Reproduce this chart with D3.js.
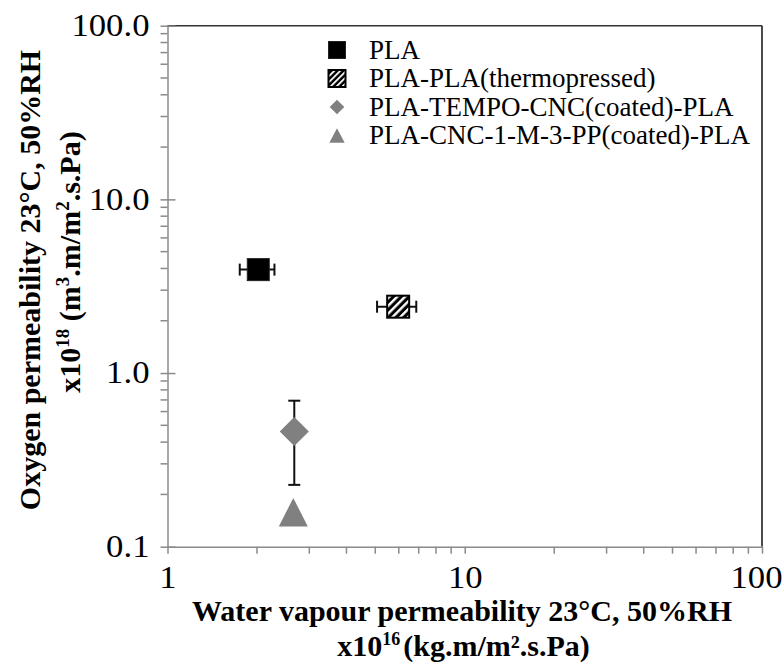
<!DOCTYPE html>
<html>
<head>
<meta charset="utf-8">
<script src="https://cdn.jsdelivr.net/npm/d3@7"></script>
<style>
  html, body { margin: 0; padding: 0; background: #fff; }
  svg { display: block; }
  text { font-family: "Liberation Serif", "Times New Roman", serif; }
</style>
</head>
<body>
<svg id="chart" width="783" height="666"></svg>
<script>
// ---- data ----
const seriesNames = ["PLA", "PLA-PLA(thermopressed)", "PLA-TEMPO-CNC(coated)-PLA", "PLA-CNC-1-M-3-PP(coated)-PLA"];
const wvp = [2.02, 5.97, 2.67, 2.65];          // x: water vapour permeability x1e16
const wvpErr = [0.27, 0.9, 0, 0];
const op = [3.94, 2.41, 0.46, 0.158];          // y: oxygen permeability x1e18
const opErr = [0, 0, 0.233, 0];
const xTickValues = [1, 10, 100];
const xTickLabels = ["1", "10", "100"];
const yTickValues = [0.1, 1, 10, 100];
const yTickLabels = ["0.1", "1.0", "10.0", "100.0"];

// ---- layout ----
const svg = d3.select("#chart");
const W = 783;
const m = { left: 167.5, right: 762, top: 25.7, bottom: 546.7 };
const serif = "'Liberation Serif', 'Times New Roman', serif";

const x = d3.scaleLog().domain([1, 100]).range([m.left, m.right]);
const y = d3.scaleLog().domain([0.1, 100]).range([m.bottom, m.top]);

const defs = svg.append("defs");
function hatch(id, s, w) {
  const p = defs.append("pattern").attr("id", id)
    .attr("patternUnits", "userSpaceOnUse").attr("width", s).attr("height", s)
    .attr("patternTransform", "rotate(45)");
  p.append("rect").attr("width", s).attr("height", s).attr("fill", "#000");
  p.append("rect").attr("width", w).attr("height", s).attr("fill", "#fff");
}
hatch("hatch", 5.5, 2.4);
hatch("hatchSmall", 4.2, 1.8);

const axisGray = "#8a8a8a";

// plot border top/right
svg.append("line").attr("x1", m.left).attr("x2", m.right).attr("y1", m.top).attr("y2", m.top)
  .attr("stroke", "#333").attr("stroke-width", 1.5);
svg.append("line").attr("x1", m.right).attr("x2", m.right).attr("y1", m.top).attr("y2", m.bottom)
  .attr("stroke", "#111").attr("stroke-width", 1.5);

// minor ticks
const yMinor = [];
for (let d = 0.1; d < 100; d *= 10) for (let k = 2; k <= 9; k++) yMinor.push(+(d * k).toPrecision(3));
const xMinor = [];
for (let d = 1; d < 100; d *= 10) for (let k = 2; k <= 9; k++) xMinor.push(d * k);

function widen(sel, f) {
  sel.each(function () {
    const L = this.getComputedTextLength();
    d3.select(this).attr("textLength", L * f).attr("lengthAdjust", "spacingAndGlyphs");
  });
}

// Y axis
const yAxis = d3.axisLeft(y).tickValues(yTickValues)
  .tickFormat((d, i) => yTickLabels[i]).tickSizeOuter(0).tickSizeInner(7).tickPadding(11);
const gy = svg.append("g").attr("transform", `translate(${m.left},0)`).call(yAxis);
gy.attr("font-family", null);
gy.select(".domain").attr("stroke", axisGray).attr("stroke-width", 1.5);
gy.selectAll(".tick line").attr("stroke", axisGray).attr("stroke-width", 1.5).attr("x2", -7).attr("x1", 8);
gy.selectAll(".tick text").style("font-size", "31px").style("font-family", serif).attr("fill", "#000");
widen(gy.selectAll(".tick text"), 1.12);
svg.append("g").selectAll("line").data(yMinor).join("line")
  .attr("x1", m.left - 7).attr("x2", m.left).attr("y1", d => y(d)).attr("y2", d => y(d))
  .attr("stroke", axisGray).attr("stroke-width", 1.5);

// X axis
const xAxis = d3.axisBottom(x).tickValues(xTickValues)
  .tickFormat((d, i) => xTickLabels[i]).tickSizeOuter(0).tickSizeInner(7).tickPadding(12);
const gx = svg.append("g").attr("transform", `translate(0,${m.bottom})`).call(xAxis);
gx.attr("font-family", null);
gx.select(".domain").attr("stroke", axisGray).attr("stroke-width", 1.5);
gx.selectAll(".tick line").attr("stroke", axisGray).attr("stroke-width", 1.5);
gx.selectAll(".tick text").style("font-size", "31px").style("font-family", serif).attr("fill", "#000");
widen(gx.selectAll(".tick text"), 1.12);
// keep the last label inside the picture
gx.selectAll(".tick").each(function (d) {
  const t = d3.select(this).select("text");
  const L = +t.attr("textLength");
  const over = x(d) + L / 2 - (W - 1);
  if (over > 0) t.attr("x", -over);
});
svg.append("g").selectAll("line").data(xMinor).join("line")
  .attr("x1", d => x(d)).attr("x2", d => x(d)).attr("y1", m.bottom).attr("y2", m.bottom + 7)
  .attr("stroke", axisGray).attr("stroke-width", 1.5);

// error bars
const data = seriesNames.map((n, i) => ({ n, i, x: wvp[i], y: op[i], ex: wvpErr[i], ey: opErr[i] }));
const eb = svg.append("g").attr("stroke", "#111").attr("stroke-width", 2).attr("fill", "none");
const cap = 6;
data.filter(d => d.ex > 0).forEach(d => {
  const x0 = x(d.x - d.ex), x1 = x(d.x + d.ex), yy = y(d.y);
  eb.append("line").attr("x1", x0).attr("x2", x1).attr("y1", yy).attr("y2", yy);
  eb.append("line").attr("x1", x0).attr("x2", x0).attr("y1", yy - cap).attr("y2", yy + cap);
  eb.append("line").attr("x1", x1).attr("x2", x1).attr("y1", yy - cap).attr("y2", yy + cap);
});
data.filter(d => d.ey > 0).forEach(d => {
  const y0 = y(d.y - d.ey), y1 = y(d.y + d.ey), xx = x(d.x);
  eb.append("line").attr("x1", xx).attr("x2", xx).attr("y1", y0).attr("y2", y1);
  eb.append("line").attr("y1", y0).attr("y2", y0).attr("x1", xx - cap).attr("x2", xx + cap);
  eb.append("line").attr("y1", y1).attr("y2", y1).attr("x1", xx - cap).attr("x2", xx + cap);
});

// markers
function drawMarker(g, i, cx, cy, s, small) {
  if (i === 0) {
    g.append("rect").attr("x", cx - s / 2).attr("y", cy - s / 2).attr("width", s).attr("height", s)
      .attr("fill", "#000").attr("stroke", "#222").attr("stroke-width", 1);
  } else if (i === 1) {
    g.append("rect").attr("x", cx - s / 2).attr("y", cy - s / 2).attr("width", s).attr("height", s)
      .attr("fill", small ? "url(#hatchSmall)" : "url(#hatch)").attr("stroke", "#000").attr("stroke-width", 2);
  } else if (i === 2) {
    const r = small ? s * 0.43 : s * 0.66;
    g.append("path").attr("d", `M${cx},${cy - r}L${cx + r},${cy}L${cx},${cy + r}L${cx - r},${cy}Z`)
      .attr("fill", "#808080");
  } else {
    const h = small ? s * 0.85 : s * 1.3, w = small ? s * 0.9 : s * 1.32;
    g.append("path").attr("d", `M${cx},${cy - h / 2}L${cx + w / 2},${cy + h / 2}L${cx - w / 2},${cy + h / 2}Z`)
      .attr("fill", "#808080");
  }
}
const mk = svg.append("g");
data.forEach(d => drawMarker(mk, d.i, x(d.x), y(d.y), 22, false));

// legend
const leg = svg.append("g");
const legY = [50, 78.5, 107, 135.5];
seriesNames.forEach((n, i) => {
  drawMarker(leg, i, 337, legY[i], 17, true);
  leg.append("text").attr("x", 369).attr("y", legY[i] + 8.9)
    .style("font-size", "27px").text(n);
});

// axis titles
svg.append("text").attr("x", 462).attr("y", 621).attr("text-anchor", "middle")
  .style("font-size", "30px").attr("font-weight", "bold")
  .text("Water vapour permeability 23°C, 50%RH");
const xt2 = svg.append("text").attr("x", 463.5).attr("y", 656).attr("text-anchor", "middle")
  .style("font-size", "30px").attr("font-weight", "bold");
xt2.append("tspan").text("x10");
xt2.append("tspan").style("font-size", "18px").attr("dy", -11).text("16");
xt2.append("tspan").attr("dy", 11).attr("dx", 3).text("(kg.m/m².s.Pa)");

svg.append("text").attr("transform", "translate(40,280) rotate(-90)")
  .attr("text-anchor", "middle").style("font-size", "30px").attr("font-weight", "bold")
  .text("Oxygen permeability 23°C, 50%RH");
const yt2 = svg.append("text").attr("transform", "translate(80,262) rotate(-90)")
  .attr("text-anchor", "middle").style("font-size", "30px").attr("font-weight", "bold");
yt2.append("tspan").text("x10");
yt2.append("tspan").style("font-size", "19px").attr("dy", -11).text("18");
yt2.append("tspan").attr("dy", 11).text(" (m");
yt2.append("tspan").style("font-size", "19px").attr("dy", -11).text("3");
yt2.append("tspan").attr("dy", 11).text(".m/m");
yt2.append("tspan").style("font-size", "19px").attr("dy", -11).text("2");
yt2.append("tspan").attr("dy", 11).text(".s.Pa)");
</script>
</body>
</html>
